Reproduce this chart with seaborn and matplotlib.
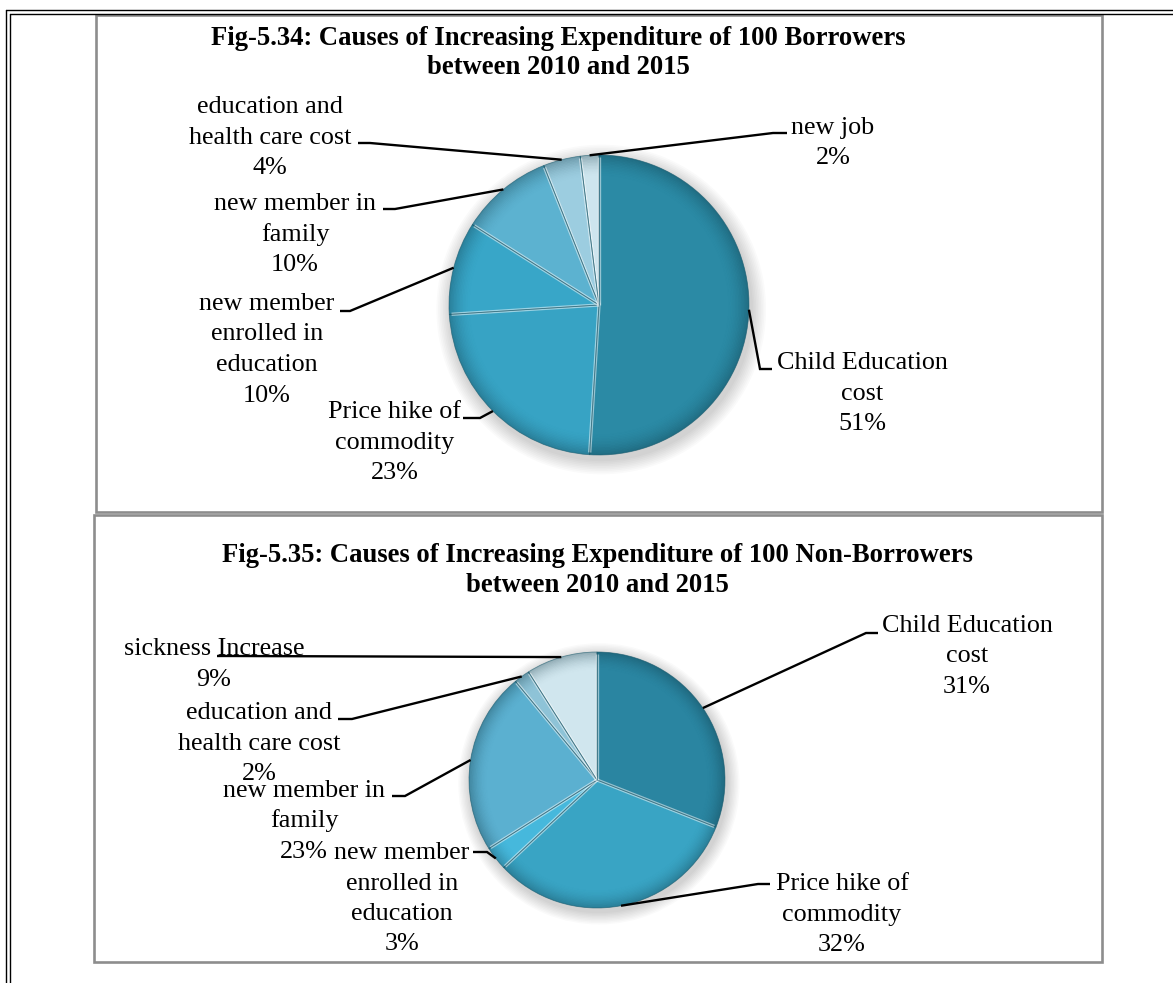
import numpy as np
import matplotlib
matplotlib.use("Agg")
import matplotlib.pyplot as plt
from matplotlib.patches import Rectangle
import seaborn as sns

sns.set_theme(style="white")
plt.rcParams['font.family'] = ['Liberation Serif', 'DejaVu Serif']

# ---------------------------------------------------------------- data
borrower_causes = ["Child Education cost", "Price hike of commodity",
                   "new member enrolled in education", "new member in family",
                   "education and health care cost", "new job"]
borrower_pct = [51, 23, 10, 10, 4, 2]
borrower_label_lines = [["Child Education", "cost"], ["Price hike of", "commodity"],
                        ["new member", "enrolled in", "education"],
                        ["new member in", "family"],
                        ["education and", "health care cost"], ["new job"]]

nonborrower_causes = ["Child Education cost", "Price hike of commodity",
                      "new member enrolled in education", "new member in family",
                      "education and health care cost", "sickness Increase"]
nonborrower_pct = [31, 32, 3, 23, 2, 9]
nonborrower_label_lines = [["Child Education", "cost"], ["Price hike of", "commodity"],
                           ["new member", "enrolled in", "education"],
                           ["new member in", "family"],
                           ["education and", "health care cost"], ["sickness Increase"]]

title_borrowers = ["Fig-5.34: Causes of Increasing Expenditure of 100 Borrowers",
                   "between 2010 and 2015"]
title_nonborrowers = ["Fig-5.35: Causes of Increasing Expenditure of 100 Non-Borrowers",
                      "between 2010 and 2015"]

# ---------------------------------------------------------------- styling
borrower_colors = ["#2b8aa5", "#37a3c4", "#38a6c8", "#5cb2d0", "#9ccde0", "#cde5ee"]
nonborrower_colors = ["#2a85a1", "#39a4c4", "#46b8dc", "#5bb0d0", "#8ec3d7", "#d0e6ee"]

W, H, DPI = 1173, 983, 100
fig = plt.figure(figsize=(W / DPI, H / DPI), dpi=DPI)
fig.patch.set_facecolor("white")

PAD = 1.2


def draw_pie(center_px, radius_px, values, colors):
    size = 2 * radius_px * PAD
    ax = fig.add_axes([(center_px[0] - radius_px * PAD) / W,
                       (H - center_px[1] - radius_px * PAD) / H,
                       size / W, size / H], zorder=2)
    # soft drop shadow
    for k in range(9):
        ax.pie([1], colors=["#000000"], radius=1.0 + 0.011 * (9 - k),
               center=(0.015, -0.03), wedgeprops=dict(alpha=0.02, linewidth=0))
    wedges, _ = ax.pie(values, colors=colors, radius=1.0, startangle=90,
                       counterclock=False, wedgeprops=dict(linewidth=0))
    # darkening toward the rim for a bevelled look
    n = 14
    for k in range(n):
        ax.pie(values, colors=["#0b2f3a"] * len(values), radius=1.0 - k * 0.01,
               startangle=90, counterclock=False,
               wedgeprops=dict(width=0.0105, alpha=0.30 * (1 - k / n) ** 1.8,
                               linewidth=0))
    # bevel seams along the slice boundaries
    for w in wedges:
        th = np.deg2rad(w.theta1)
        ax.plot([0, 0.985 * np.cos(th)], [0, 0.985 * np.sin(th)],
                color=(1, 1, 1, 0.5), lw=2.4, solid_capstyle="butt")
        ax.plot([0, np.cos(th)], [0, np.sin(th)],
                color="#1d5f72", lw=0.6, alpha=0.8, solid_capstyle="butt")
    ax.pie(values, colors=["none"] * len(values), radius=1.0, startangle=90,
           counterclock=False,
           wedgeprops=dict(fill=False, edgecolor=(0.1, 0.35, 0.42, 0.6), linewidth=0.6))
    ax.set_xlim(-PAD, PAD)
    ax.set_ylim(-PAD, PAD)
    ax.set_aspect("equal")
    ax.axis("off")
    return ax, wedges


ax1, wedges1 = draw_pie((599, 305), 150, borrower_pct, borrower_colors)
ax2, wedges2 = draw_pie((597, 780), 128, nonborrower_pct, nonborrower_colors)

ov = fig.add_axes([0, 0, 1, 1], zorder=5)
ov.set_xlim(0, W)
ov.set_ylim(H, 0)
ov.axis("off")

fig.canvas.draw()

# page frame (double rule on top and left)
fc = "black"
ov.plot([6, W], [10, 10], color=fc, lw=1.0)
ov.plot([9.5, W], [13.5, 13.5], color=fc, lw=1.0)
ov.plot([6, 6], [10, H], color=fc, lw=1.0)
ov.plot([9.5, 9.5], [13.5, H], color=fc, lw=1.0)

# chart boxes
ov.add_patch(Rectangle((96, 15), 1006, 497, fill=False, ec="#8d8d8d", lw=1.9))
ov.add_patch(Rectangle((94, 515), 1008, 447, fill=False, ec="#8d8d8d", lw=1.9))

# titles
TITLE_FS = 19.2
for i, t in enumerate(title_borrowers):
    ov.text(558, 45 + 29.5 * i, t, ha="center", va="baseline",
            fontsize=TITLE_FS, fontweight="bold", color="black")
for i, t in enumerate(title_nonborrowers):
    ov.text(597, 562 + 29.5 * i, t, ha="center", va="baseline",
            fontsize=TITLE_FS, fontweight="bold", color="black")

LABEL_FS = 18.8
LINE_SP = 30.5

# label layout: (centre x, first baseline, elbow xy, tick-end xy)
layout1 = [(862, 369, (760, 369), (772, 369)),
           (395, 418, (480, 418), (463, 418)),
           (267, 310, (350, 311), (340, 311)),
           (295, 210, (395, 209), (383, 209)),
           (270, 113, (370, 143), (358, 143)),
           (833, 134, (773, 133), (787, 133))]
layout2 = [(967, 632, (866, 633), (878, 633)),
           (842, 890, (758, 884), (770, 884)),
           (402, 859, (487, 852), (473, 852)),
           (304, 797, (405, 796), (392, 796)),
           (259, 719, (352, 719), (338, 719)),
           (214, 655, (232, 656), (217, 656))]


def rim_point(ax, wedge):
    th = np.deg2rad((wedge.theta1 + wedge.theta2) / 2)
    disp = ax.transData.transform((wedge.r * np.cos(th) + wedge.center[0],
                                   wedge.r * np.sin(th) + wedge.center[1]))
    return ov.transData.inverted().transform(disp)


def label_pie(ax, wedges, values, label_lines, layout):
    for w, v, lines, (cx, b0, elbow, tick) in zip(wedges, values, label_lines, layout):
        px, py = rim_point(ax, w)
        ov.plot([tick[0], elbow[0], px], [tick[1], elbow[1], py], color="black",
                lw=1.7, solid_capstyle="butt", solid_joinstyle="miter")
        for i, s in enumerate(lines + [f"{v}%"]):
            ov.text(cx, b0 + LINE_SP * i, s, ha="center", va="baseline",
                    fontsize=LABEL_FS, color="black")


label_pie(ax1, wedges1, borrower_pct, borrower_label_lines, layout1)
label_pie(ax2, wedges2, nonborrower_pct, nonborrower_label_lines, layout2)

fig.savefig("out.png", dpi=DPI, facecolor="white")
